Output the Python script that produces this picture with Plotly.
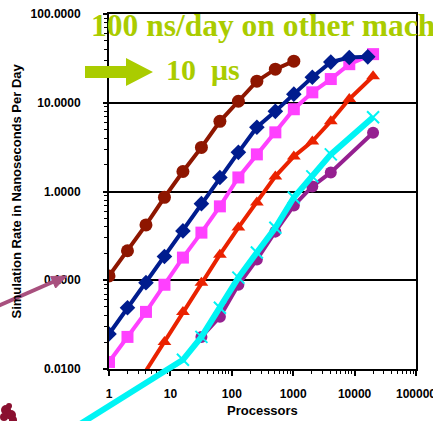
import math
import plotly.graph_objects as go

W, H = 433, 421
# plot-area pixel box (main axes)
PL, PR, PT, PB = 109, 416, 14, 369
XR = [0, 5]      # log10 range of processors
YR = [-2, 2]     # log10 range of rate

# ---------------- data ----------------
dred_x = [1, 2, 4, 8, 16, 32, 64, 128, 256, 512, 1024]
dred_y = [0.112, 0.215, 0.42, 0.86, 1.68, 3.14, 6.18, 10.4, 17.5, 23.9, 29.4]

blue_x = [1, 2, 4, 8, 16, 32, 64, 128, 256, 512, 1024, 2048, 4096, 8192, 16384]
blue_y = [0.0248, 0.0489, 0.094, 0.185, 0.36, 0.73, 1.44, 2.76, 5.3, 8.0, 12.5,
          19.4, 28.7, 32.4, 32.9]

mag_x = [1, 2, 4, 8, 16, 32, 64, 128, 256, 512, 1024, 2048, 4096, 8192, 20000]
mag_y = [0.012, 0.023, 0.044, 0.089, 0.18, 0.344, 0.68, 1.44, 2.62, 4.64, 8.45,
         13.1, 18.5, 27.2, 35.3]

red_x = [2, 8, 16, 32, 64, 128, 256, 512, 1024, 2048, 4096, 8192, 20000]
red_y = [0.0045, 0.0202, 0.044, 0.094, 0.194, 0.392, 0.75, 1.48, 2.48, 3.67,
         6.18, 11.0, 19.9]

purp_x = [32, 64, 128, 256, 512, 1024, 2048, 4096, 20000]
purp_y = [0.023, 0.0388, 0.089, 0.171, 0.353, 0.695, 1.14, 1.64, 4.6]

cyan_x = [0.25, 16, 32, 64, 128, 256, 512, 1024, 2048, 4096, 20000]
cyan_y = [0.0021, 0.0127, 0.023, 0.049, 0.107, 0.205, 0.39, 0.855, 1.48, 2.62, 6.86]

y_ticks = [0.01, 0.1, 1, 10, 100]
y_labels = ["0.0100", "0.1000", "1.0000", "10.0000", "100.0000"]
x_ticks = [1, 10, 100, 1000, 10000, 100000]
x_labels = ["1", "10", "100", "1000", "10000", "100000"]

# ---------------- helpers ----------------
def px(x):
    return x / W

def py(y):
    return 1 - y / H

xdec = (PR - PL) / (XR[1] - XR[0])
ydec = (PB - PT) / (YR[1] - YR[0])
x2range = [XR[0] - PL / xdec, XR[0] + (W - PL) / xdec]
y2range = [YR[0] - (H - PB) / ydec, YR[1] + PT / ydec]

fig = go.Figure()

def add(xs, ys, color, symbol, size, lw, xa="x", ya="y", mline=None):
    marker = dict(color=color, symbol=symbol, size=size)
    if mline:
        marker["line"] = mline
    fig.add_trace(go.Scatter(x=xs, y=ys, mode="lines+markers",
                             line=dict(color=color, width=lw),
                             marker=marker, xaxis=xa, yaxis=ya,
                             showlegend=False, hoverinfo="skip"))

add(dred_x, dred_y, "#8e1600", "circle", 13, 4)
add(mag_x, mag_y, "#ff40ff", "square", 12, 4)
add(blue_x, blue_y, "#001c8e", "diamond", 12, 4)
add(red_x, red_y, "#ea2200", "triangle-up", 12, 4)
add(purp_x, purp_y, "#952090", "circle", 12, 4)
add(cyan_x, cyan_y, "#00f4f4", "x-thin", 12, 6, xa="x2", ya="y2",
    mline=dict(color="#00f4f4", width=2))

axis_font = dict(family="Liberation Sans, Arial", size=12, color="black")

fig.update_layout(
    width=W, height=H,
    margin=dict(l=0, r=0, t=0, b=0),
    paper_bgcolor="white", plot_bgcolor="rgba(0,0,0,0)",
    xaxis=dict(type="log", range=XR, domain=[PL / W, PR / W], anchor="y",
               showline=True, linecolor="black", linewidth=2, mirror=True,
               showgrid=False, zeroline=False,
               tickmode="array", tickvals=x_ticks,
               ticktext=["<b>%s</b>" % t for t in x_labels],
               ticks="outside", ticklen=5, tickwidth=1.5, tickcolor="black",
               ticklabelstandoff=8, ticklabeloverflow="allow",
               minor=dict(ticks="outside", ticklen=3, dtick="D1",
                          tickcolor="black", tickwidth=1, showgrid=False),
               tickfont=axis_font, automargin=False),
    yaxis=dict(type="log", range=YR,
               domain=[1 - PB / H, 1 - PT / H], anchor="x",
               showline=True, linecolor="black", linewidth=2, mirror=True,
               showgrid=True, gridcolor="black", gridwidth=1.5, zeroline=False,
               tickmode="array", tickvals=y_ticks,
               ticktext=["<b>%s</b>" % t for t in y_labels],
               ticks="outside", ticklen=4, tickwidth=1.5, tickcolor="black",
               ticklabelstandoff=20, ticklabeloverflow="allow",
               minor=dict(ticks="outside", ticklen=3, dtick="D1",
                          tickcolor="black", tickwidth=1, showgrid=False),
               tickfont=axis_font, automargin=False),
    xaxis2=dict(type="log", range=x2range, domain=[0, 1], anchor="y2",
                visible=False, fixedrange=True),
    yaxis2=dict(type="log", range=y2range, domain=[0, 1], anchor="x2",
                visible=False, fixedrange=True),
)

green = "#aacc00"
ann = []
ann.append(dict(text="<b>Processors</b>", x=px((PL + PR) / 2), y=py(410),
                xref="paper", yref="paper", showarrow=False,
                xanchor="center", yanchor="middle",
                font=dict(family="Liberation Sans, Arial", size=13, color="black")))
ann.append(dict(text="<b>Simulation Rate in Nanoseconds Per Day</b>",
                x=px(16), y=py((PT + PB) / 2), textangle=-90,
                xref="paper", yref="paper", showarrow=False,
                xanchor="center", yanchor="middle",
                font=dict(family="Liberation Sans, Arial", size=13, color="black")))
ann.append(dict(text="<b>100 ns/day on other machines</b>", x=px(89), y=py(26),
                xref="paper", yref="paper", xanchor="left", yanchor="middle",
                showarrow=False,
                font=dict(family="Liberation Serif, Times New Roman", size=31.5, color=green)))
ann.append(dict(text="<b>10  μs</b>", x=px(164), y=py(69),
                xref="paper", yref="paper", xanchor="left", yanchor="middle",
                showarrow=False,
                font=dict(family="Liberation Serif, Times New Roman", size=30, color=green)))
fig.update_layout(annotations=ann)

def poly(pts):
    return "M " + " L ".join("%.4f,%.4f" % (px(a), py(b)) for a, b in pts) + " Z"

shapes = []
# green arrow
shapes.append(dict(type="path", xref="paper", yref="paper", layer="above",
                   path=poly([(85, 66), (126, 66), (126, 58), (153, 72),
                              (126, 86), (126, 78), (85, 78)]),
                   fillcolor=green, line=dict(width=0)))
# mauve arrow
shapes.append(dict(type="line", xref="paper", yref="paper", layer="above",
                   x0=px(-2), y0=py(306), x1=px(55), y1=py(281),
                   line=dict(color="#a8507e", width=4)))
shapes.append(dict(type="path", xref="paper", yref="paper", layer="above",
                   path=poly([(67, 276), (55.6, 288), (50.6, 276.5)]),
                   fillcolor="#a8507e", line=dict(color="#a8507e", width=1)))
# molecule blob bottom-left
for cx, cy, r in [(6, 410, 5), (11, 415, 5), (4, 417, 4), (9, 406, 3), (13, 420, 4)]:
    shapes.append(dict(type="circle", xref="paper", yref="paper", layer="above",
                       x0=px(cx - r), x1=px(cx + r), y0=py(cy + r), y1=py(cy - r),
                       fillcolor="#8a1030", line=dict(width=0)))
fig.update_layout(shapes=shapes)

fig.write_html("out.html", config={"displayModeBar": False},
               post_script="document.body.style.margin='0';document.body.style.overflow='hidden';")
